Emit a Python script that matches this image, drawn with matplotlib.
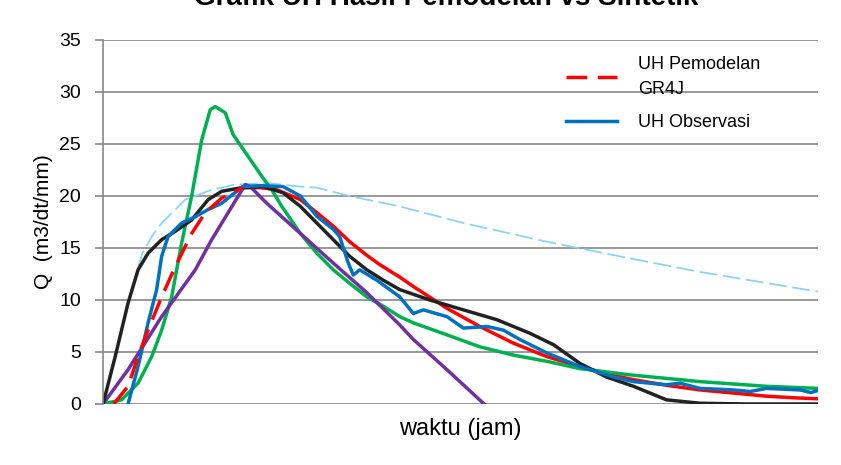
import matplotlib
matplotlib.use("Agg")
import matplotlib.pyplot as plt

plt.rcParams['font.family'] = ['Liberation Sans', 'DejaVu Sans']

# waktu (jam) and Q (m3/dt/mm)
t_gr4j = [1.5, 3.5, 4.9, 6.3, 8.2, 10.1, 12.4, 14.3, 16.6, 19.5, 22.0, 24.3, 27.6, 29.9, 32.2,
          34.5, 36.9, 38.7, 41.5, 43.4, 48.1, 52.7, 57.4, 62.1, 66.7, 70.0, 73.7, 78.8, 83.5,
          88.2, 92.8, 96.5, 100]
q_gr4j = [0.0, 1.7, 4.55, 7.1, 10.3, 13.2, 16.4, 18.4, 19.8, 20.8, 20.8, 20.6, 19.65, 18.4, 17.1,
          15.6, 14.3, 13.4, 12.2, 11.3, 9.2, 7.45, 5.85, 4.55, 3.6, 3.0, 2.4, 1.8, 1.35,
          1.05, 0.75, 0.6, 0.5]

t_obs = [3.5, 4.9, 6.3, 7.5, 8.2, 9.1, 11.0, 12.9, 14.7, 16.6, 19.5, 22.0, 25.2, 27.6, 29.9,
         32.2, 33.1, 34.3, 35.0, 35.9, 38.3, 41.5, 43.4, 44.8, 48.1, 50.4, 53.7, 56.0, 58.3,
         62.1, 66.7, 71.4, 74.2, 78.8, 80.7, 83.5, 88.2, 90.5, 92.8, 97.5, 99.0, 100]
q_obs = [0.0, 3.6, 7.8, 11.0, 14.2, 16.1, 17.4, 18.0, 18.7, 19.3, 20.9, 21.0, 20.9, 20.0, 18.05,
         16.8, 16.1, 13.55, 12.4, 12.9, 11.9, 10.3, 8.7, 9.05, 8.4, 7.3, 7.45, 7.1, 6.2,
         4.9, 3.6, 2.6, 2.15, 1.85, 2.0, 1.5, 1.35, 1.2, 1.5, 1.35, 1.1, 1.3]

t_black = [0, 1.7, 3.5, 4.9, 6.3, 8.2, 10.1, 12.4, 14.7, 16.6, 19.4, 22.5, 25.2, 27.6, 29.9,
           32.2, 34.5, 36.9, 39.2, 41.5, 45.7, 50.4, 55.1, 59.7, 63.0, 66.7, 70.4, 74.2, 78.8,
           83.5, 90, 100]
q_black = [0, 4.55, 9.7, 12.9, 14.5, 15.8, 16.6, 17.7, 19.65, 20.45, 20.8, 20.9, 20.3, 19.0, 17.4,
           15.8, 14.2, 12.9, 11.9, 11.0, 10.0, 9.05, 8.1, 6.8, 5.7, 3.9, 2.6, 1.7, 0.4,
           0.07, 0.0, 0.0]

t_green = [0, 2.6, 4.9, 6.8, 8.2, 9.6, 11.0, 12.4, 13.8, 15.0, 15.7, 16.4, 17.1, 18.2, 20.3,
           22.2, 23.6, 25.0, 27.6, 29.9, 32.2, 34.5, 36.9, 39.2, 41.5, 43.4, 48.1, 52.7, 57.4,
           62.1, 66.7, 73.7, 83.5, 92.8, 100]
q_green = [0, 0.4, 2.0, 4.55, 7.1, 10.3, 15.5, 20.0, 25.4, 28.3, 28.6, 28.3, 28.0, 25.9, 23.8,
           21.9, 20.6, 19.0, 16.4, 14.5, 12.9, 11.6, 10.3, 9.4, 8.4, 7.8, 6.65, 5.5, 4.7,
           4.1, 3.4, 2.8, 2.15, 1.7, 1.5]

t_purple = [0, 3.5, 8.2, 12.9, 15.2, 17.5, 19.9, 20.6, 22.9, 27.6, 32.2, 36.9, 41.5, 43.4, 48.1, 53.3]
q_purple = [0, 3.3, 8.4, 12.9, 15.8, 18.4, 21.1, 20.9, 19.3, 16.4, 13.55, 10.7, 7.6, 6.2, 3.3, 0.0]

t_lblue = [0, 2.0, 4.0, 5.5, 7.0, 8.2, 11.5, 15.2, 18.5, 22.9, 27.6, 29.9, 34.5, 41.5, 50.4,
           62.1, 73.7, 83.5, 100]
q_lblue = [0, 5.5, 11.0, 14.5, 16.3, 17.4, 19.65, 20.6, 21.1, 21.25, 20.9, 20.8, 20.0, 19.0, 17.4,
           15.6, 14.0, 12.7, 10.8]

y_ticks = [0, 5, 10, 15, 20, 25, 30, 35]

fig = plt.figure(figsize=(8.41, 4.65), dpi=100)
ax = fig.add_axes([0.1225, 0.1312, 0.8502, 0.7828])

ax.plot(t_lblue, q_lblue, color='#8ED4F0', lw=1.3, ls=(0, (10, 3)))
ax.plot(t_green, q_green, color='#00B050', lw=2.5)
ax.plot(t_purple, q_purple, color='#7030A0', lw=2.5)
ax.plot(t_black, q_black, color='#222222', lw=2.5)
ax.plot(t_obs, q_obs, color='#0070C0', lw=2.5, label='UH Observasi')
# rising limb is drawn dashed, recession looks solid in the source
k = 10
ax.plot(t_gr4j[:k], q_gr4j[:k], color='#FF0000', lw=2.5, ls=(0, (6, 3)), label='UH Pemodelan\nGR4J')
ax.plot(t_gr4j[k - 1:], q_gr4j[k - 1:], color='#FF0000', lw=2.5, zorder=1.9)

ax.set_xlim(0, 100)
ax.set_ylim(0, 35)
ax.set_yticks(y_ticks)
ax.set_xticks([])
ax.yaxis.grid(True, color='#868686', lw=1.2)
ax.set_axisbelow(True)
for s in ['top', 'right', 'bottom']:
    ax.spines[s].set_visible(False)
ax.spines['left'].set_color('#868686')
ax.spines['left'].set_linewidth(1.2)
ax.tick_params(axis='y', length=6, color='#868686', width=1.2, labelsize=14, pad=10)

ax.set_ylabel('Q  (m3/dt/mm)', fontsize=15, labelpad=4)
ax.set_xlabel('waktu (jam)', fontsize=17, labelpad=10)

handles, labels = ax.get_legend_handles_labels()
ax.legend(handles[::-1], labels[::-1], loc='upper left', bbox_to_anchor=(0.625, 1.0),
          frameon=False, fontsize=13, handlelength=2.8, handletextpad=1.2, labelspacing=0.9)
for txt in ax.get_legend().get_texts():
    txt.set_linespacing(1.6)

fig.text(0.53, 1 - 5 / 465, 'Grafik UH Hasil Pemodelan vs Sintetik', fontsize=20,
         fontweight='bold', ha='center', va='baseline')

fig.savefig('out.png', dpi=100)
